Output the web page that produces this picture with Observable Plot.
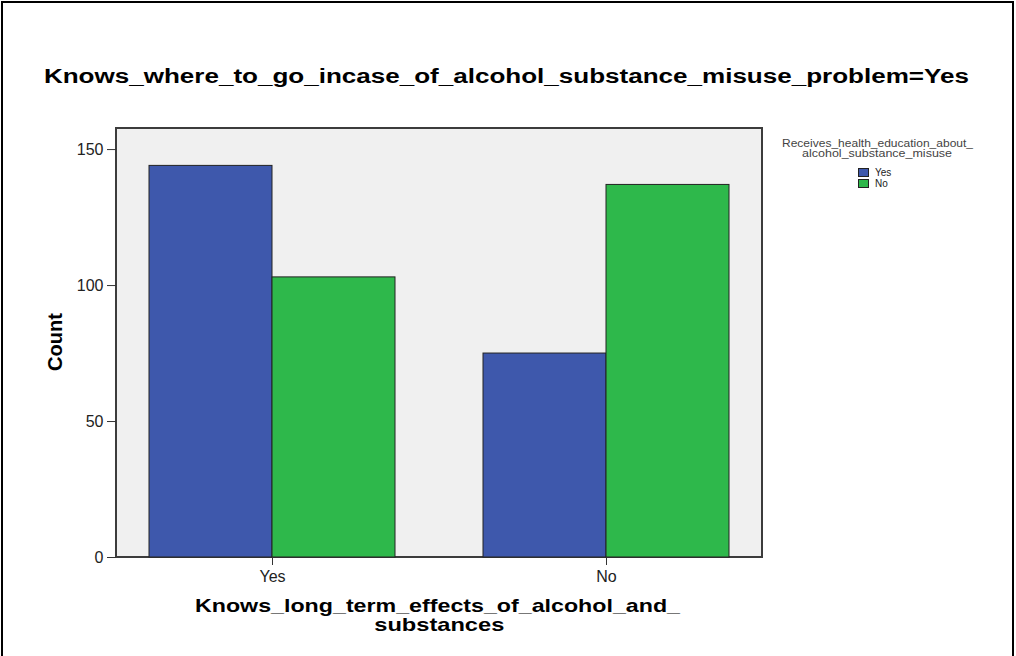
<!DOCTYPE html>
<html>
<head>
<meta charset="utf-8">
<script src="https://cdn.jsdelivr.net/npm/d3@7"></script>
<script src="https://cdn.jsdelivr.net/npm/@observablehq/plot@0.6"></script>
<style>
  body { margin: 0; background: #fff; font-family: "Liberation Sans", Arial, sans-serif; }
  #wrap { position: relative; width: 1016px; height: 656px; overflow: hidden; background: #fff; }
  #border { position: absolute; left: 1px; top: 1px; width: 1013px; height: 700px; box-sizing: border-box; border: 2px solid #000; }
  #panel { position: absolute; left: 115px; top: 127px; width: 648px; height: 431px; box-sizing: border-box; background: #f0f0f0; border: 2px solid #3c3c3c; }
  #chart { position: absolute; left: 0; top: 0; }
  .line { position: absolute; white-space: nowrap; text-align: center; }
  .line span { display: inline-block; transform-origin: center; }
  .ttl { font-weight: bold; font-size: 20px; line-height: 20px; color: #000; }
  .xlab { font-weight: bold; font-size: 19px; line-height: 19px; color: #000; }
  #ylab { position: absolute; font-weight: bold; font-size: 20px; line-height: 20px; color: #000; transform: rotate(-90deg); transform-origin: center; white-space: nowrap; }
  .legt { font-size: 10px; line-height: 10px; color: #444; }
  .sw { position: absolute; width: 11px; height: 9px; box-sizing: border-box; border: 1px solid #222; }
  .swl { position: absolute; font-size: 10px; line-height: 10px; color: #222; white-space: nowrap; }
</style>
</head>
<body>
<div id="wrap">
  <div id="border"></div>
  <div id="panel"></div>
  <div id="chart"></div>
</div>
<script>
// ---- data ----
const groups = ["Yes", "No"];                 // Knows_long_term_effects_of_alcohol_and_substances
const series = ["Yes", "No"];                 // Receives_health_education_about_alcohol_substance_misuse
const countsSeriesYes = [144, 75];
const countsSeriesNo = [103, 137];
const seriesColors = ["#3e58ac", "#2eb84b"];
const yTicks = [0, 50, 100, 150];

const titleText = "Knows_where_to_go_incase_of_alcohol_substance_misuse_problem=Yes";
const xLabelLines = ["Knows_long_term_effects_of_alcohol_and_", "substances"];
const yLabelText = "Count";
const legendTitleLines = ["Receives_health_education_about_", "alcohol_substance_misuse"];

const data = [];
groups.forEach((g, i) => {
  data.push({group: g, series: series[0], count: countsSeriesYes[i]});
  data.push({group: g, series: series[1], count: countsSeriesNo[i]});
});

const chart = Plot.plot({
  width: 1016,
  height: 656,
  marginLeft: 116,
  marginRight: 254,
  marginTop: 128,
  marginBottom: 99,
  style: {background: "transparent", color: "#222", fontFamily: "'Liberation Sans', Arial, sans-serif"},
  fx: {domain: groups, paddingInner: 0.066, paddingOuter: 0, label: null},
  x: {domain: series, paddingInner: 0, paddingOuter: 0.263, axis: null},
  y: {domain: [0, 157.75], label: null},
  color: {domain: series, range: seriesColors},
  marks: [
    Plot.barY(data, {fx: "group", x: "series", y: "count", fill: "series", stroke: "#222", strokeWidth: 1}),
    Plot.axisY({ticks: yTicks, tickSize: 9, tickPadding: 4, fontSize: 16, label: null, stroke: "#333"}),
    Plot.axisFx({anchor: "bottom", tickSize: 8, tickPadding: 5, fontSize: 16, label: null, stroke: "#333"})
  ]
});
document.getElementById("chart").appendChild(chart);

// ---- text elements ----
const wrap = document.getElementById("wrap");
function addLine(text, cls, cx, top, targetWidth) {
  const d = document.createElement("div");
  d.className = "line " + cls;
  d.style.left = (cx - 500) + "px";
  d.style.width = "1000px";
  d.style.top = top + "px";
  const s = document.createElement("span");
  s.textContent = text;
  d.appendChild(s);
  wrap.appendChild(d);
  if (targetWidth) {
    const w = s.getBoundingClientRect().width;
    s.style.transform = `scaleX(${targetWidth / w})`;
  }
  return d;
}
// title
addLine(titleText, "ttl", 506.5, 66, 925);
// x label
addLine(xLabelLines[0], "xlab", 437.5, 596, 485);
addLine(xLabelLines[1], "xlab", 439, 615, 130);
// y label
const yl = document.createElement("div");
yl.id = "ylab";
yl.textContent = yLabelText;
wrap.appendChild(yl);
yl.style.left = (55 - yl.offsetWidth / 2) + "px";
yl.style.top = (342 - yl.offsetHeight / 2) + "px";
// legend
addLine(legendTitleLines[0], "legt", 877.5, 138.5, 191);
addLine(legendTitleLines[1], "legt", 876.7, 148.5, 150);
series.forEach((name, i) => {
  const sw = document.createElement("div");
  sw.className = "sw";
  sw.style.left = "858px";
  sw.style.top = (168 + i * 11) + "px";
  sw.style.background = seriesColors[i];
  wrap.appendChild(sw);
  const lb = document.createElement("div");
  lb.className = "swl";
  lb.style.left = "875px";
  lb.style.top = (167.5 + i * 11) + "px";
  lb.textContent = name;
  wrap.appendChild(lb);
});
</script>
</body>
</html>
